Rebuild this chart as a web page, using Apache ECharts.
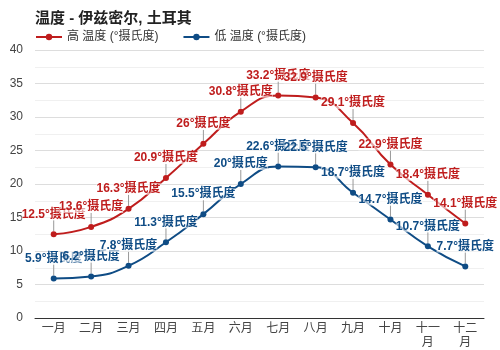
<!DOCTYPE html>
<html><head><meta charset="utf-8">
<script src="https://cdn.jsdelivr.net/npm/echarts@6/dist/echarts.min.js"></script>
<style>html,body{margin:0;padding:0;background:#fff}#c{width:500px;height:350px}</style>
</head><body><div id="c"></div>
<script>
const months = ['一月','二月','三月','四月','五月','六月','七月','八月','九月','十月','十一月','十二月'];
const highTemps = [12.5,13.6,16.3,20.9,26,30.8,33.2,32.9,29.1,22.9,18.4,14.1];
const lowTemps = [5.9,6.2,7.8,11.3,15.5,20,22.6,22.5,18.7,14.7,10.7,7.7];
const yTicks = {min:0, max:40, interval:5};
const redC = '#bf1d1d', blueC = '#0f4c85';
const FF = '"Liberation Sans", Arial, "Noto Sans CJK SC", sans-serif';
const chart = echarts.init(document.getElementById('c'), null, {renderer:'canvas'});
function mkSeries(name, data, color){
  return {
    name, type:'line', data, smooth:true, symbol:'circle', symbolSize:6,
    itemStyle:{color}, lineStyle:{color, width:2},
    label:{show:true, position:'top', distance:2, formatter:p=>p.value+'°摄氏度',
      color, fontWeight:'bold', fontSize:12, fontFamily:FF,
      backgroundColor:'rgba(255,255,255,0.6)', padding:[0,0]},
    labelLayout:{dy:-9},
    labelLine:{show:true, lineStyle:{color:'#999', width:1}}
  };
}
chart.setOption({
  animation:false,
  title:{text:'温度 - 伊兹密尔, 土耳其', left:30, top:6,
    textStyle:{fontSize:15, fontWeight:'bold', color:'#222', fontFamily:FF}},
  legend:{left:30, top:26, itemWidth:26, itemHeight:8, itemGap:24,
    textStyle:{fontSize:12, color:'#333', fontFamily:FF},
    data:['高 温度 (°摄氏度)','低 温度 (°摄氏度)']},
  grid:{left:35, right:16, top:50, bottom:32, containLabel:false, outerBoundsMode:'none'},
  xAxis:{type:'category', data:months, boundaryGap:true,
    axisLine:{lineStyle:{color:'#333'}}, axisTick:{show:false},
    axisLabel:{color:'#444', fontSize:12, interval:0, width:30, overflow:'break', lineHeight:14,
      margin:4, fontFamily:FF}},
  yAxis:{type:'value', min:yTicks.min, max:yTicks.max, interval:yTicks.interval,
    axisLabel:{color:'#444', fontSize:12, margin:12, fontFamily:FF},
    splitLine:{lineStyle:{color:'#ddd'}},
    minorTick:{show:false, splitNumber:2},
    minorSplitLine:{show:true, lineStyle:{color:'#f0f0f0'}}},
  series:[mkSeries('高 温度 (°摄氏度)', highTemps, redC), mkSeries('低 温度 (°摄氏度)', lowTemps, blueC)]
});
</script></body></html>
